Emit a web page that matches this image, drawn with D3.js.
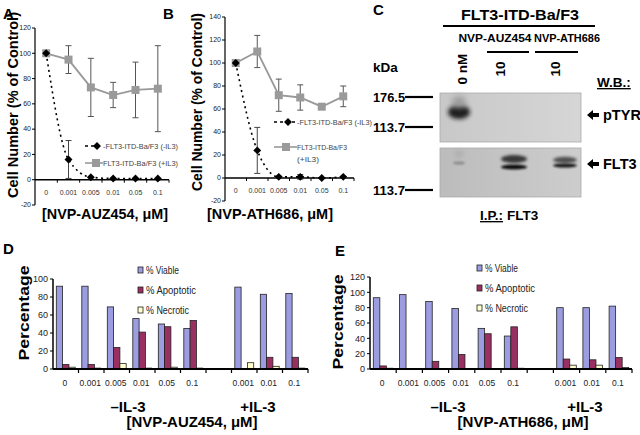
<!DOCTYPE html>
<html><head><meta charset="utf-8">
<script src="https://cdn.jsdelivr.net/npm/d3@7"></script>
<style>body{margin:0;background:#fff}svg{display:block;font-family:"Liberation Sans",Arial,sans-serif}</style>
</head><body><svg id="c" width="640" height="435"></svg>
<script>
// ---------- data ----------
const doses = ["0","0.001","0.005","0.01","0.05","0.1"];
const aMinus = [100,16,2,1,1,1];
const aMinusErr = [0,15,0,0,0,0];
const aPlus = [100,95,73,67,71,72];
const aPlusErr = [0,11,23,10,22,34];
const aTicks = [-20,0,20,40,60,80,100,120];
const bMinus = [100,24,1,1,0,1];
const bMinusErr = [0,20,0,2,0,0];
const bPlus = [100,110,72,70,62,71];
const bPlusErr = [0,14,14,11,2,9];
const bTicks = [-20,0,20,40,60,80,100,120,140];
const seriesNames = ["FLT3-ITD-Ba/F3 (-IL3)","FLT3-ITD-Ba/F3 (+IL3)"];

const barCats = ["0","0.001","0.005","0.01","0.05","0.1","","0.001","0.01","0.1"];
const dViable = [92,92,69,56,50,45,null,91,83,84];
const dApop   = [5,5,24,41,47,54,null,0,13,13];
const dNecro  = [2,1,6,1,2,1,null,7,3,1];
const dTicks = [0,20,40,60,80,100];
const eViable = [93,97,88,79,53,43,null,80,80,82];
const eApop   = [4,0,10,19,46,55,null,13,12,15];
const eNecro  = [1,0,0,0,0,1,null,5,5,2];
const eTicks = [0,20,40,60,80,100,120];
const barNames = ["% Viable","% Apoptotic","% Necrotic"];
const barColors = ["#9c9ce0","#9a2f62","#ffffcc"];

// western blot (panel C)
const blotLanes = ["0 nM","10","10"];
const blotMarkers = ["176.5","113.7","113.7"];
const blotBands = [
  {lane:0,panel:0,dy:19,rx:11,ry:7,c:"#1a1a1a",b:2.2},
  {lane:0,panel:0,dy:9,rx:7,ry:6,c:"#9a9a9a",b:3},
  {lane:0,panel:1,dy:15,rx:6,ry:1.6,c:"#8a8a8a",b:0.9},
  {lane:0,panel:1,dy:6,rx:5,ry:4,c:"#b0b0b0",b:2},
  {lane:1,panel:1,dy:11,rx:13,ry:4,c:"#383838",b:1.5},
  {lane:1,panel:1,dy:19,rx:13,ry:2.5,c:"#111",b:0.9},
  {lane:2,panel:1,dy:12,rx:12,ry:3.2,c:"#505050",b:1.5},
  {lane:2,panel:1,dy:17.5,rx:12,ry:2,c:"#151515",b:0.8}
];

const svg = d3.select("#c");
function txt(x,y,s,size,opt={}){
  const t = svg.append("text").attr("x",x).attr("y",y).text(s)
    .attr("font-size",size).attr("font-weight",opt.w||"bold").attr("fill",opt.fill||"#000")
    .attr("text-anchor",opt.a||"start");
  if(opt.rot!=null) t.attr("transform",`rotate(${opt.rot},${x},${y})`);
  if(opt.u) t.attr("text-decoration","underline");
  if(opt.len) t.attr("textLength",opt.len).attr("lengthAdjust","spacingAndGlyphs");
  return t;
}

// ---------- line panels ----------
function linePanel(o){
  txt(o.yt,o.ytc,"Cell Number (% of Control)",15,{a:"middle",rot:-90,len:o.ylen});
  const g = svg.append("g");
  const x = d3.scaleBand().domain(doses).range(o.xr);
  const y = d3.scaleLinear().domain([o.ticks[0],o.ticks[o.ticks.length-1]]).range(o.yr);
  const x0 = o.xr[0];
  g.append("line").attr("x1",x0).attr("x2",x0).attr("y1",o.yr[0]).attr("y2",o.yr[1]).attr("stroke","#000").attr("stroke-width",1.2);
  o.ticks.forEach(t=>{
    g.append("line").attr("x1",x0-3).attr("x2",x0).attr("y1",y(t)).attr("y2",y(t)).attr("stroke","#000");
    g.append("text").attr("x",x0-4).attr("y",y(t)+2.3).text(t).attr("font-size",7).attr("fill","#222").attr("text-anchor","end");
  });
  const y0 = y(0);
  g.append("line").attr("x1",o.xr[0]).attr("x2",o.xr[1]).attr("y1",y0).attr("y2",y0).attr("stroke","#000").attr("stroke-width",1.5);
  doses.forEach((d,i)=>{
    const bx = x(d)+x.bandwidth();
    g.append("line").attr("x1",bx).attr("x2",bx).attr("y1",y0).attr("y2",y0+3).attr("stroke","#000");
    g.append("text").attr("x",x(d)+x.bandwidth()/2).attr("y",y0+15).text(d)
      .attr("font-size",7).attr("fill","#333").attr("text-anchor","middle");
  });
  const cx = d=>x(d)+x.bandwidth()/2;
  const plus = doses.map((d,i)=>({d,v:o.plus[i],e:o.plusErr[i]}));
  const minus = doses.map((d,i)=>({d,v:o.minus[i],e:o.minusErr[i]}));
  [plus,minus].forEach((arr,k)=>{
    arr.forEach(p=>{ if(p.e>0){
      const col = k==0?"#555":"#444";
      g.append("line").attr("x1",cx(p.d)).attr("x2",cx(p.d)).attr("y1",y(p.v+p.e)).attr("y2",y(p.v-p.e)).attr("stroke",col).attr("stroke-width",1);
      [p.v+p.e,p.v-p.e].forEach(v=>g.append("line").attr("x1",cx(p.d)-3).attr("x2",cx(p.d)+3).attr("y1",y(v)).attr("y2",y(v)).attr("stroke",col).attr("stroke-width",1));
    }});
  });
  g.append("path").datum(plus).attr("fill","none").attr("stroke","#999").attr("stroke-width",1.8)
    .attr("d",d3.line().x(p=>cx(p.d)).y(p=>y(p.v)));
  g.append("path").datum(minus).attr("fill","none").attr("stroke","#000").attr("stroke-width",1.6)
    .attr("stroke-dasharray","2,3.5")
    .attr("d",d3.line().curve(d3.curveMonotoneX).x(p=>cx(p.d)).y(p=>y(p.v)));
  g.selectAll(".sq").data(plus).join("rect").attr("x",p=>cx(p.d)-4).attr("y",p=>y(p.v)-4)
    .attr("width",8).attr("height",8).attr("fill","#9a9a9a");
  const dia = d3.symbol().type(d3.symbolDiamond2).size(40);
  g.selectAll(".dm").data(minus).join("path").attr("d",dia)
    .attr("transform",p=>`translate(${cx(p.d)},${y(p.v)})`).attr("fill","#000");
  const L = o.leg;
  g.append("line").attr("x1",L.x1).attr("x2",L.x2).attr("y1",L.y1).attr("y2",L.y1).attr("stroke","#000").attr("stroke-width",1.6).attr("stroke-dasharray","3,3");
  g.append("path").attr("d",dia).attr("transform",`translate(${L.mx1},${L.y1})`).attr("fill","#000");
  g.append("line").attr("x1",L.x1).attr("x2",L.x2).attr("y1",L.y2).attr("y2",L.y2).attr("stroke","#999").attr("stroke-width",1.6);
  g.append("rect").attr("x",L.mx2-4).attr("y",L.y2-4).attr("width",8).attr("height",8).attr("fill","#9a9a9a");
  L.lines1.forEach((s,i)=>g.append("text").attr("x",L.tx).attr("y",L.y1+2.5+i*12).text(s).attr("font-size",7).attr("fill","#444").attr("textLength",L.tl1[i]).attr("lengthAdjust","spacingAndGlyphs"));
  L.lines2.forEach((s,i)=>g.append("text").attr("x",L.tx).attr("y",L.y2+2.5+i*12).text(s).attr("font-size",7).attr("fill","#444").attr("textLength",L.tl2[i]).attr("lengthAdjust","spacingAndGlyphs"));
  txt(o.xtc,219,o.xtitle,15,{a:"middle",len:126});
  txt(o.lx,19,o.letter,15);
}
linePanel({xr:[35,169],yr:[205,28],ticks:aTicks,plus:aPlus,plusErr:aPlusErr,minus:aMinus,minusErr:aMinusErr,
  leg:{x1:85,x2:103,mx1:97,mx2:96,y1:146,y2:163,tx:103,lines1:["-"+seriesNames[0]],tl1:[75],lines2:[seriesNames[1]],tl2:[75]},
  yt:18,ytc:105,ylen:186,xtc:105,xtitle:"[NVP-AUZ454, μM]",letter:"A",lx:3});
linePanel({xr:[225,354],yr:[201,17],ticks:bTicks,plus:bPlus,plusErr:bPlusErr,minus:bMinus,minusErr:bMinusErr,
  leg:{x1:274,x2:297,mx1:288,mx2:286,y1:122,y2:147,tx:297,lines1:["-"+seriesNames[0]],tl1:[75],lines2:["FLT3-ITD-Ba/F3","(+IL3)"],tl2:[50,22]},
  yt:202,ytc:102,ylen:178,xtc:270,xtitle:"[NVP-ATH686, μM]",letter:"B",lx:163});

// ---------- bar panels ----------
function barPanel(o){
  const g = svg.append("g");
  const idx = d3.range(barCats.length);
  const x = d3.scaleBand().domain(idx).range(o.xr);
  const x1 = d3.scaleBand().domain([0,1,2]).range([3.3,x.bandwidth()-3.3]);
  const y = d3.scaleLinear().domain([0,o.ticks[o.ticks.length-1]]).range(o.yr);
  const series = [o.v,o.a,o.n];
  series.forEach((arr,k)=>{
    g.selectAll(".b"+k).data(idx.filter(i=>arr[i]!=null)).join("rect")
      .attr("x",i=>x(i)+x1(k)).attr("width",x1.bandwidth())
      .attr("y",i=>y(arr[i])).attr("height",i=>y(0)-y(arr[i]))
      .attr("fill",barColors[k]).attr("stroke","#222").attr("stroke-width",0.8);
  });
  const x0 = o.xr[0];
  g.append("line").attr("x1",x0).attr("x2",x0).attr("y1",o.yr[0]).attr("y2",o.yr[1]).attr("stroke","#000").attr("stroke-width",1.5);
  o.ticks.forEach(t=>{
    g.append("line").attr("x1",x0-3).attr("x2",x0).attr("y1",y(t)).attr("y2",y(t)).attr("stroke","#000");
    g.append("text").attr("x",x0-5).attr("y",y(t)+3.2).text(t).attr("font-size",9).attr("fill","#222").attr("text-anchor","end");
  });
  const y0 = y(0);
  g.append("line").attr("x1",o.xr[0]).attr("x2",o.xr[1]).attr("y1",y0).attr("y2",y0).attr("stroke","#000").attr("stroke-width",1.8);
  idx.forEach(i=>{
    const bx = x(i)+x.bandwidth();
    g.append("line").attr("x1",bx).attr("x2",bx).attr("y1",y0).attr("y2",y0+4).attr("stroke","#000").attr("stroke-width",1.2);
    if(barCats[i]) g.append("text").attr("x",x(i)+x.bandwidth()/2-1).attr("y",y0+17).text(barCats[i])
      .attr("font-size",8.5).attr("fill","#222").attr("text-anchor","middle");
  });
  barNames.forEach((s,k)=>{
    g.append("rect").attr("x",o.lx).attr("y",o.ly+k*20-3).attr("width",5).attr("height",6).attr("fill",barColors[k]).attr("stroke","#222").attr("stroke-width",0.8);
    g.append("text").attr("x",o.lx+8).attr("y",o.ly+k*20+3.5).text(s).attr("font-size",10).attr("fill","#222")
      .attr("textLength",[33,50,43][k]).attr("lengthAdjust","spacingAndGlyphs");
  });
  txt(o.yt,o.ytc,"Percentage",15.5,{a:"middle",rot:-90,len:95});
  txt(o.m1,412,"–IL-3",15,{a:"middle"});
  txt(o.m2,412,"+IL-3",15,{a:"middle"});
  txt(o.xtc,427,o.xtitle,15,{a:"middle",len:131});
  txt(o.lt[0],o.lt[1],o.letter,15);
}
barPanel({xr:[53,308],yr:[369,279],ticks:dTicks,v:dViable,a:dApop,n:dNecro,lx:138,ly:270,
  yt:29,ytc:313,m1:128,m2:258,xtc:192,xtitle:"[NVP-AUZ454, μM]",letter:"D",lt:[3,254]});
barPanel({xr:[370,632],yr:[369,277],ticks:eTicks,v:eViable,a:eApop,n:eNecro,lx:477,ly:268,
  yt:343,ytc:322,m1:448,m2:585,xtc:523,xtitle:"[NVP-ATH686, μM]",letter:"E",lt:[335,256]});

// ---------- panel C: western blot ----------
(function(){
  const defs = svg.append("defs");
  const gr = defs.append("linearGradient").attr("id","bg1");
  gr.append("stop").attr("offset","0").attr("stop-color","#c8c8c8");
  gr.append("stop").attr("offset","1").attr("stop-color","#d6d6d6");
  const gr2 = defs.append("linearGradient").attr("id","bg2");
  gr2.append("stop").attr("offset","0").attr("stop-color","#bcbcbc");
  gr2.append("stop").attr("offset","1").attr("stop-color","#cdcdcd");
  const laneX = d3.scalePoint().domain(d3.range(blotLanes.length)).range([463,565]);
  const panels = [{y:93,h:49,f:"url(#bg1)"},{y:148,h:49,f:"url(#bg2)"}];
  panels.forEach(p=>svg.append("rect").attr("x",440).attr("y",p.y).attr("width",141).attr("height",p.h).attr("fill",p.f).attr("stroke","#aaa").attr("stroke-width",0.8));
  blotBands.forEach((b,i)=>{
    const f = defs.append("filter").attr("id","bl"+i).attr("x","-50%").attr("y","-100%").attr("width","200%").attr("height","300%");
    f.append("feGaussianBlur").attr("stdDeviation",b.b);
    const off = b.lane==0?-4:0;
    svg.append("ellipse").attr("cx",laneX(b.lane)+off).attr("cy",panels[b.panel].y+b.dy)
      .attr("rx",b.rx).attr("ry",b.ry).attr("fill",b.c).attr("filter",`url(#bl${i})`);
  });
  txt(373,15,"C",15);
  txt(520,20,"FLT3-ITD-Ba/F3",14.5,{a:"middle",len:118});
  svg.append("line").attr("x1",443).attr("x2",595).attr("y1",26).attr("y2",26).attr("stroke","#000").attr("stroke-width",2);
  txt(495,42,"NVP-AUZ454",10,{a:"middle",len:73});
  txt(567,42,"NVP-ATH686",10,{a:"middle",len:66});
  [[487,529],[535,578]].forEach(s=>svg.append("line").attr("x1",s[0]).attr("x2",s[1]).attr("y1",52).attr("y2",52).attr("stroke","#000").attr("stroke-width",2));
  txt(373,72,"kDa",13.5,{w:"bold"});
  blotLanes.forEach((s,i)=>txt(laneX(i)+(i==0?4:i==1?-9:-5),69,s,13.5,{a:"middle",rot:-90}));
  txt(597,87,"W.B.:",13.5,{u:true});
  const my = [97,127,190];
  blotMarkers.forEach((s,i)=>{
    txt(373,my[i]+5,s,13.5,{len:32});
    svg.append("line").attr("x1",405).attr("x2",433).attr("y1",my[i]).attr("y2",my[i]).attr("stroke","#000").attr("stroke-width",2.2);
  });
  [["pTYR",115],["FLT3",164]].forEach(a=>{
    svg.append("path").attr("d",`M587,${a[1]} l6,-5 v3 h6 v4 h-6 v3 z`).attr("fill","#000");
    txt(603,a[1]+5,a[0],14.5);
  });
  txt(480,220,"I.P.:",13.5,{u:true});
  txt(507,220,"FLT3",13.5);
})();
</script></body></html>
